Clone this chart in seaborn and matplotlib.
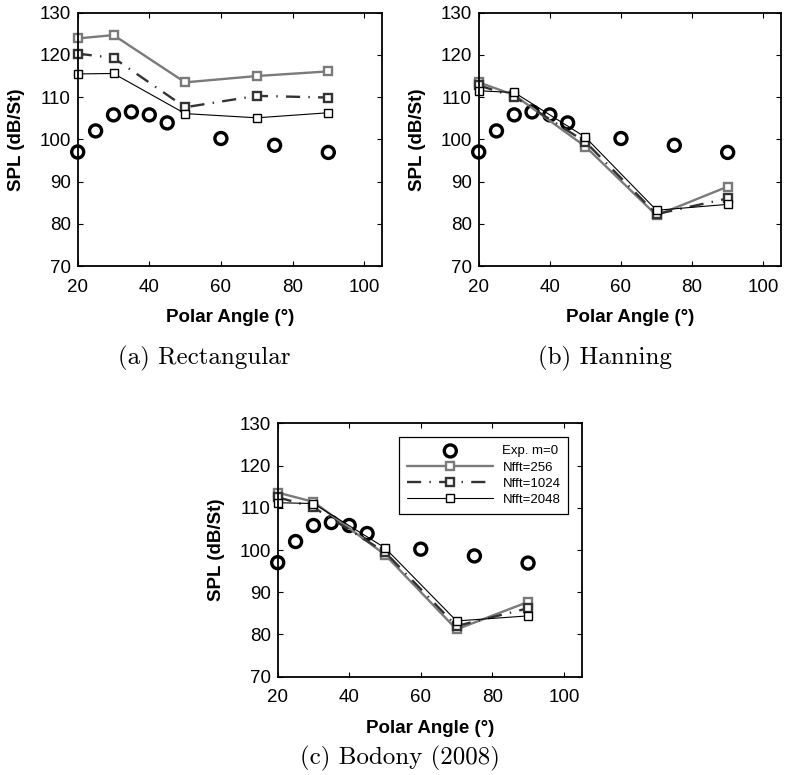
import matplotlib
matplotlib.use("Agg")
import matplotlib.pyplot as plt
import seaborn as sns
import pandas as pd

# Experimental azimuthal mode m=0 directivity
exp_angle = [20, 25, 30, 35, 40, 45, 60, 75, 90]
exp_spl = [97.0, 102.0, 105.8, 106.5, 105.8, 103.9, 100.2, 98.6, 96.9]

# Simulated directivity at the sampled polar angles
sim_angle = [20, 30, 50, 70, 90]

rect_256 = [123.9, 124.7, 113.5, 115.0, 116.1]
rect_1024 = [120.3, 119.3, 107.6, 110.3, 109.9]
rect_2048 = [115.5, 115.6, 106.1, 105.1, 106.3]

hann_256 = [113.5, 110.5, 98.3, 82.0, 88.8]
hann_1024 = [112.8, 110.1, 99.4, 82.3, 86.0]
hann_2048 = [111.5, 111.1, 100.5, 83.2, 84.6]

bod_256 = [113.6, 111.4, 98.9, 81.2, 87.7]
bod_1024 = [112.5, 110.1, 99.5, 82.0, 86.2]
bod_2048 = [111.2, 111.0, 100.5, 83.2, 84.4]

nfft_labels = ["Nfft=256", "Nfft=1024", "Nfft=2048"]
exp_label = "Exp. m=0"
captions = ["(a) Rectangular", "(b) Hanning", "(c) Bodony (2008)"]

sns.set_theme(style="ticks")
plt.rcParams.update({
    "font.family": ["Liberation Sans", "DejaVu Sans"],
    "text.color": "black",
    "axes.labelcolor": "black",
    "xtick.color": "black",
    "ytick.color": "black",
    "axes.linewidth": 1.3,
    "axes.edgecolor": "black",
    "xtick.direction": "in",
    "ytick.direction": "in",
    "xtick.top": True,
    "ytick.right": True,
    "xtick.major.size": 3.5,
    "ytick.major.size": 3.5,
    "xtick.major.width": 0.8,
    "ytick.major.width": 0.8,
    "xtick.labelsize": 13.5,
    "ytick.labelsize": 13.5,
    "xtick.major.pad": 9,
    "ytick.major.pad": 5,
})

styles = [
    dict(color="#7a7a7a", lw=1.7, ls="-", mec="#7a7a7a", mew=1.7),
    dict(color="#333333", lw=1.7, ls=(0, (6, 3.5, 0.6, 3.5)), mec="#333333", mew=1.7),
    dict(color="black", lw=0.8, ls="-", mec="black", mew=1.0),
]

fig = plt.figure(figsize=(7.86, 7.75), dpi=100)
W, H = 786, 775


def add_axes(left, top, right, bottom):
    return fig.add_axes([left / W, 1 - bottom / H, (right - left) / W, (bottom - top) / H])


axes = [
    add_axes(77.7, 12.7, 382.0, 266.0),
    add_axes(478.7, 12.7, 781.0, 266.0),
    add_axes(277.7, 423.3, 581.7, 676.7),
]

panels = [
    (rect_256, rect_1024, rect_2048),
    (hann_256, hann_1024, hann_2048),
    (bod_256, bod_1024, bod_2048),
]

for ax, series in zip(axes, panels):
    sns.scatterplot(x=exp_angle, y=exp_spl, ax=ax, marker="o", s=75,
                    facecolor="none", edgecolor="black", linewidth=2.4,
                    label=exp_label, zorder=3, clip_on=False)
    for vals, st, lab in zip(series, styles, nfft_labels):
        df = pd.DataFrame({"angle": sim_angle, "spl": vals})
        sns.lineplot(data=df, x="angle", y="spl", ax=ax, color=st["color"],
                     linewidth=st["lw"], linestyle=st["ls"], marker="s",
                     markersize=5.5, markerfacecolor="white",
                     markeredgecolor=st["mec"], markeredgewidth=st["mew"],
                     label=lab, zorder=4, clip_on=False)
    ax.set_xlim(20, 105)
    ax.set_ylim(70, 130)
    ax.set_xticks([20, 40, 60, 80, 100])
    ax.set_yticks([70, 80, 90, 100, 110, 120, 130])
    ax.set_xlabel("Polar Angle (°)", fontsize=13.5, fontweight="bold", labelpad=10)
    ax.set_ylabel("SPL (dB/St)", fontsize=13.5, fontweight="bold", labelpad=10)
    for sp in ax.spines.values():
        sp.set_visible(True)
        sp.set_zorder(5)
    ax.get_legend().remove()

# Legend only on the last panel
h, l = axes[2].get_legend_handles_labels()
leg = axes[2].legend(h, l, loc="upper right", fontsize=9.5, frameon=True,
                     fancybox=False, edgecolor="black", framealpha=1,
                     handlelength=6.5, handletextpad=0.7, labelspacing=0.3,
                     borderpad=0.6, borderaxespad=0,
                     bbox_to_anchor=(0.956, 0.945))
leg.get_frame().set_linewidth(0.9)

cap_font = dict(family=["cmr10", "DejaVu Serif"], fontsize=18, ha="center", va="center")
fig.text(204 / W, 1 - 358 / H, captions[0], **cap_font)
fig.text(605 / W, 1 - 358 / H, captions[1], **cap_font)
fig.text(400 / W, 1 - 758 / H, captions[2], **cap_font)

fig.savefig("out.png", dpi=100)
